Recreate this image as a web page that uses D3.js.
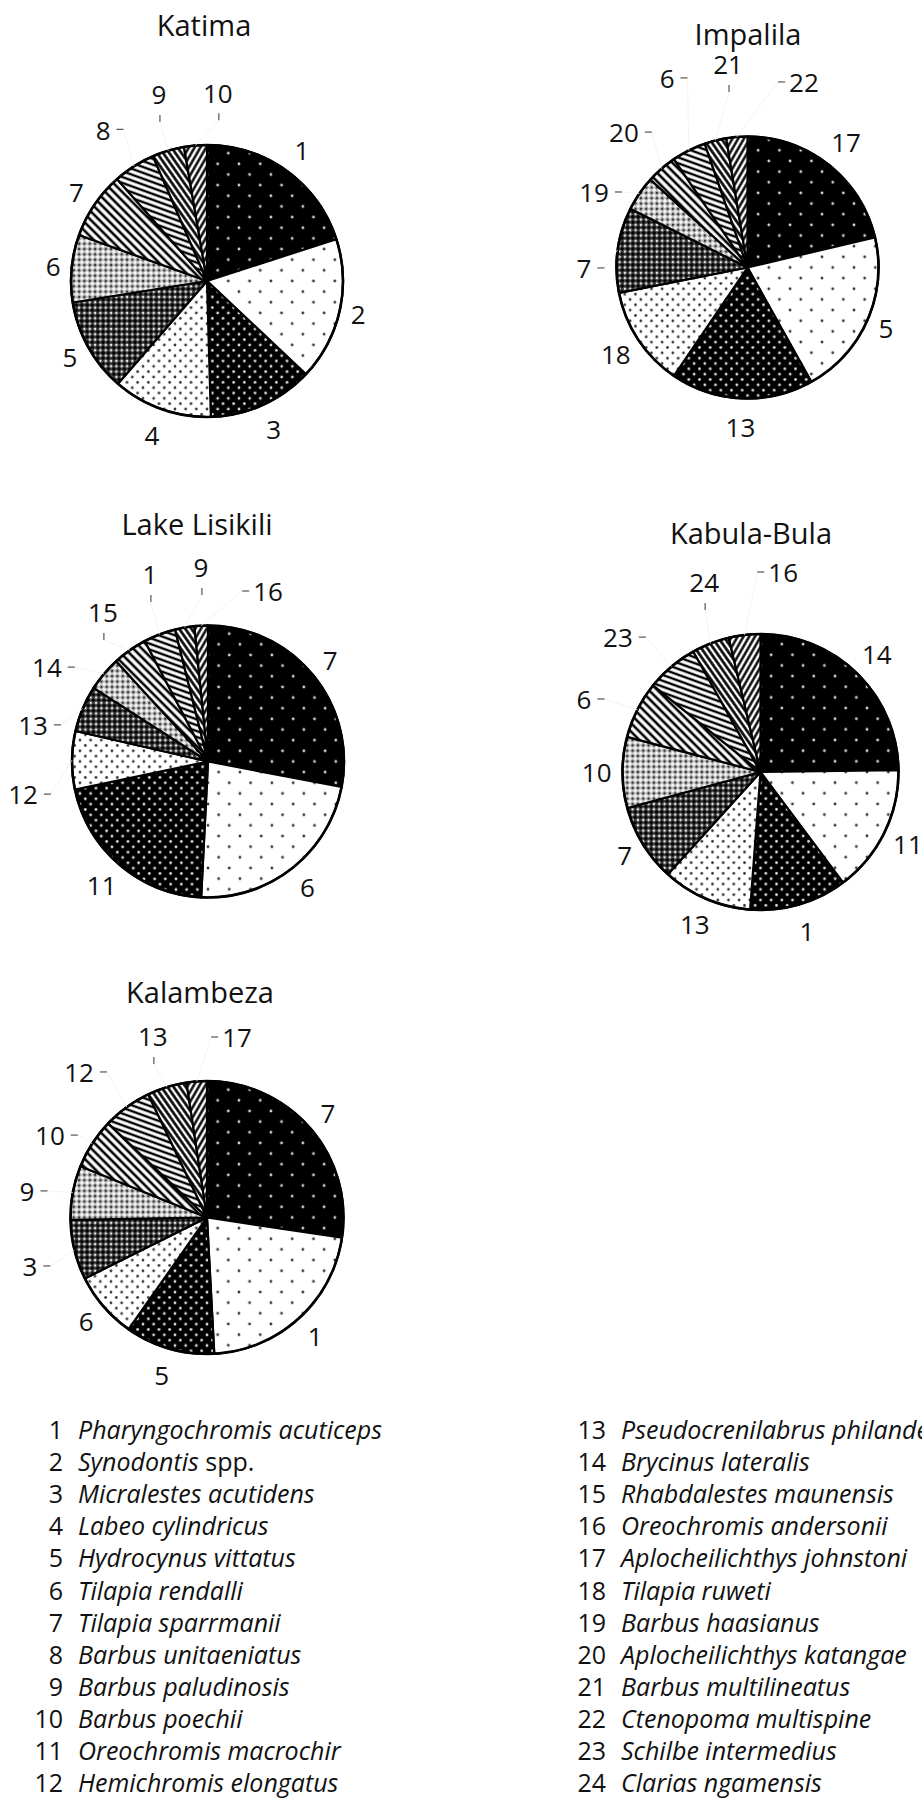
<!DOCTYPE html>
<html><head><meta charset="utf-8">
<script src="https://cdn.jsdelivr.net/npm/d3@7"></script>
<style>body{margin:0;background:#fff} svg{display:block}</style>
</head><body><svg id="c" width="922" height="1798"></svg>
<script>
// ---------- DATA ----------
const speciesNames = [
  ["Pharyngochromis acuticeps", ""], ["Synodontis", " spp."], ["Micralestes acutidens", ""],
  ["Labeo cylindricus", ""], ["Hydrocynus vittatus", ""], ["Tilapia rendalli", ""],
  ["Tilapia sparrmanii", ""], ["Barbus unitaeniatus", ""], ["Barbus paludinosis", ""],
  ["Barbus poechii", ""], ["Oreochromis macrochir", ""], ["Hemichromis elongatus", ""],
  ["Pseudocrenilabrus philander", ""], ["Brycinus lateralis", ""], ["Rhabdalestes maunensis", ""],
  ["Oreochromis andersonii", ""], ["Aplocheilichthys johnstoni", ""], ["Tilapia ruweti", ""],
  ["Barbus haasianus", ""], ["Aplocheilichthys katangae", ""], ["Barbus multilineatus", ""],
  ["Ctenopoma multispine", ""], ["Schilbe intermedius", ""], ["Clarias ngamensis", ""]
];
const siteNames = ["Katima", "Impalila", "Lake Lisikili", "Kabula-Bula", "Kalambeza"];

const katimaSpecies = [1, 2, 3, 4, 5, 6, 7, 8, 9, 10];
const katimaPct     = [20, 17, 12.5, 11.8, 11.1, 8, 8, 5, 3.8, 2.7];
const impalilaSpecies = [17, 5, 13, 18, 7, 19, 20, 6, 21, 22];
const impalilaPct     = [21.3, 20.6, 17.6, 12.4, 10.5, 4.3, 3.8, 4.2, 2.7, 2.6];
const lisikiliSpecies = [7, 6, 11, 12, 13, 14, 15, 1, 9, 16];
const lisikiliPct     = [28, 22.8, 20.9, 6.9, 5.5, 4.1, 4.1, 3.8, 2.3, 1.6];
const kabulaSpecies = [14, 11, 1, 13, 7, 10, 6, 23, 24, 16];
const kabulaPct     = [24.8, 15, 11.4, 10.5, 9.1, 8.3, 6.7, 6.1, 4.4, 3.7];
const kalambezaSpecies = [7, 1, 5, 6, 3, 9, 10, 12, 13, 17];
const kalambezaPct     = [27.4, 21.8, 10.6, 7.9, 7.1, 6.4, 6, 5.8, 4.7, 2.4];

// ---------- LAYOUT ----------
// leader-label placement: species -> [polar angle deg, distance px, stub side]
const katimaLeaders = {8: [325.4, 183, "L"], 9: [345.5, 192, "V"], 10: [3.3, 188, "V"]};
const impalilaLeaders = {7: [269.5, 163.5, "L"], 19: [295.9, 170.6, "L"], 20: [317.4, 182.6, "L"],
  6: [336.9, 205, "L"], 21: [354.5, 203.4, "V"], 22: [17, 193, "R"]};
const lisikiliLeaders = {12: [259.7, 188, "L"], 13: [281.5, 178.6, "L"], 14: [300.1, 186.2, "L"],
  15: [324.7, 181.9, "V"], 1: [342.7, 195.3, "V"], 9: [357.9, 193.6, "V"], 16: [19.5, 179.8, "R"]};
const kabulaLeaders = {6: [292.2, 190.6, "L"], 23: [313.2, 195.6, "L"], 24: [343.4, 197.3, "V"], 16: [6.5, 200.3, "R"]};
const kalambezaLeaders = {3: [254.4, 183.8, "L"], 9: [278.1, 181.8, "L"], 10: [297.4, 176.9, "L"],
  12: [318.5, 193, "L"], 13: [343.3, 188.4, "V"], 17: [9.5, 182, "R"]};

const pies = [
  {name: siteNames[0], sp: katimaSpecies, v: katimaPct, lead: katimaLeaders, cx: 207, cy: 281, r: 136, tx: 204, ty: 36},
  {name: siteNames[1], sp: impalilaSpecies, v: impalilaPct, lead: impalilaLeaders, cx: 747.5, cy: 267.5, r: 131, tx: 748, ty: 45},
  {name: siteNames[2], sp: lisikiliSpecies, v: lisikiliPct, lead: lisikiliLeaders, cx: 208, cy: 761.5, r: 136, tx: 197, ty: 535},
  {name: siteNames[3], sp: kabulaSpecies, v: kabulaPct, lead: kabulaLeaders, cx: 760.5, cy: 772, r: 138, tx: 751, ty: 544},
  {name: siteNames[4], sp: kalambezaSpecies, v: kalambezaPct, lead: kalambezaLeaders, cx: 207, cy: 1217.5, r: 136.5, tx: 200, ty: 1003}
];

const FONT = "'Open Sans', 'Noto Sans', sans-serif";
const svg = d3.select("#c");
const defs = svg.append("defs");

// ---------- PATTERNS (by slice order) ----------
function dotPattern(id, size, bg, fg, rad, stagger) {
  const p = defs.append("pattern").attr("id", id).attr("patternUnits", "userSpaceOnUse")
    .attr("width", size).attr("height", size);
  p.append("rect").attr("width", size).attr("height", size).attr("fill", bg);
  const pts = stagger ? [[0,0],[size,0],[0,size],[size,size],[size/2,size/2]] : [[size/2,size/2]];
  pts.forEach(([x,y]) => p.append("circle").attr("cx", x).attr("cy", y).attr("r", rad).attr("fill", fg));
}
function crossPattern(id, size, bg, plusCol, dotCol) {
  const p = defs.append("pattern").attr("id", id).attr("patternUnits", "userSpaceOnUse")
    .attr("width", size).attr("height", size);
  p.append("rect").attr("width", size).attr("height", size).attr("fill", bg);
  const h = size / 2, t = size * 0.14;
  p.append("rect").attr("x", h - t).attr("y", 0.6).attr("width", 2*t).attr("height", size - 1.2).attr("fill", plusCol);
  p.append("rect").attr("x", 0.6).attr("y", h - t).attr("width", size - 1.2).attr("height", 2*t).attr("fill", plusCol);
  [[0,0],[size,0],[0,size],[size,size]].forEach(([x,y]) =>
    p.append("circle").attr("cx", x).attr("cy", y).attr("r", size*0.2).attr("fill", dotCol));
}
function linePattern(id, spacing, width, angle) {
  const p = defs.append("pattern").attr("id", id).attr("patternUnits", "userSpaceOnUse")
    .attr("width", spacing).attr("height", spacing)
    .attr("patternTransform", `rotate(${angle})`);
  p.append("rect").attr("width", spacing).attr("height", spacing).attr("fill", "#fff");
  p.append("rect").attr("x", 0).attr("y", (spacing - width) / 2).attr("width", spacing).attr("height", width).attr("fill", "#000");
}
dotPattern("p0", 21.3, "#000", "#d8d8d8", 1.4, true);
dotPattern("p1", 21.3, "#fff", "#333", 1.4, true);
dotPattern("p2", 10.67, "#000", "#dcdcdc", 1.4, true);
dotPattern("p3", 10.67, "#fff", "#333", 1.35, true);
crossPattern("p4", 5.33, "#505050", "#000", "#eeeeee");
crossPattern("p5", 5.33, "#a8a8a8", "#fafafa", "#303030");
linePattern("p6", 6, 2.6, 45);
linePattern("p7", 5.5, 2.4, 20);
linePattern("p8", 5, 2.6, 55);
linePattern("p9", 5, 2.4, -60);

// ---------- PIES ----------
const rad = d => d * Math.PI / 180;
pies.forEach(P => {
  const g = svg.append("g").attr("transform", `translate(${P.cx},${P.cy})`);
  const data = P.sp.map((s, i) => ({sp: s, v: P.v[i], i}));
  const arcs = d3.pie().sort(null).value(d => d.v).startAngle(0).endAngle(2 * Math.PI)(data);
  const arc = d3.arc().innerRadius(0).outerRadius(P.r);
  g.selectAll("path.slice").data(arcs).join("path").attr("class", "slice")
    .attr("d", arc).attr("fill", d => `url(#p${d.data.i})`)
    .attr("stroke", "#000").attr("stroke-width", 2.2).attr("stroke-linejoin", "round");
  g.append("circle").attr("r", P.r).attr("fill", "none").attr("stroke", "#000").attr("stroke-width", 2.6);

  // title
  svg.append("text").attr("x", P.tx).attr("y", P.ty).attr("text-anchor", "middle")
    .attr("font-family", FONT).attr("font-size", 29).attr("fill", "#111").text(P.name);

  // labels
  arcs.forEach(a => {
    const mid = (a.startAngle + a.endAngle) / 2;
    const lead = P.lead[a.data.sp];
    const t = g.append("text").attr("text-anchor", "middle")
      .attr("font-family", FONT).attr("font-size", 26).attr("fill", "#111").text(a.data.sp);
    const w = t.node().getComputedTextLength();
    let lx, ly;
    if (lead) {
      const ang = rad(lead[0]);
      lx = lead[1] * Math.sin(ang); ly = -lead[1] * Math.cos(ang);
      let s1, s2;
      if (lead[2] === "L") { s1 = [lx + w/2 + 6, ly - 1]; s2 = [lx + w/2 + 13, ly - 1]; }
      else if (lead[2] === "R") { s1 = [lx - w/2 - 4, ly - 1]; s2 = [lx - w/2 - 11, ly - 1]; }
      else { s1 = [lx + 1, ly + 20]; s2 = [lx + 1, ly + 27]; }
      const e = [P.r * Math.sin(mid), -P.r * Math.cos(mid)];
      g.append("line").attr("x1", s2[0]).attr("y1", s2[1]).attr("x2", e[0]).attr("y2", e[1])
        .attr("stroke", "#f0f0f0").attr("stroke-width", 0.8);
      g.append("line").attr("x1", s1[0]).attr("y1", s1[1]).attr("x2", s2[0]).attr("y2", s2[1])
        .attr("stroke", "#555").attr("stroke-width", 1.2);
    } else {
      const s = Math.sin(mid), c = Math.cos(mid);
      const d = P.r + 11 + (w / 2) * s * s + 18 * c * c;
      lx = d * s; ly = -d * c;
    }
    t.attr("x", lx).attr("y", ly + 26 * 0.357);
  });
});

// ---------- LEGEND ----------
const legend = svg.append("g").attr("font-family", FONT).attr("font-size", 25).attr("fill", "#111");
const cols = [{nx: 63, tx: 78}, {nx: 606, tx: 621}];
speciesNames.forEach((nm, i) => {
  const col = cols[Math.floor(i / 12)];
  const y = 1439 + (i % 12) * 32.1;
  legend.append("text").attr("x", col.nx).attr("y", y).attr("text-anchor", "end").text(i + 1);
  const t = legend.append("text").attr("x", col.tx).attr("y", y);
  t.append("tspan").attr("font-style", "italic").text(nm[0]);
  if (nm[1]) t.append("tspan").text(nm[1]);
});
</script></body></html>
